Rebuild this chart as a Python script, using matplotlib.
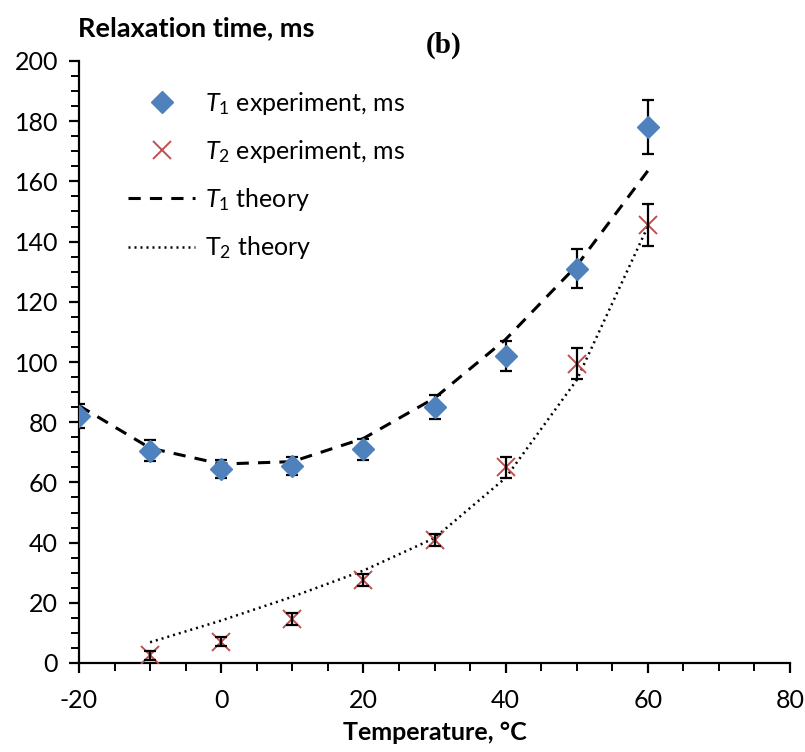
import matplotlib
matplotlib.use("Agg")
import matplotlib.pyplot as plt
from matplotlib.ticker import MultipleLocator

plt.rcParams['font.family'] = ['Lato', 'DejaVu Sans']
plt.rcParams['mathtext.fontset'] = 'custom'
plt.rcParams['mathtext.rm'] = 'Lato'
plt.rcParams['mathtext.it'] = 'Lato:italic'
plt.rcParams['axes.unicode_minus'] = False

# Data
temp_t1 = [-20, -10, 0, 10, 20, 30, 40, 50, 60]
t1_exp = [82, 70.5, 64.5, 65.5, 71, 85, 102, 131, 178]
t1_err = [4, 3.5, 3, 3, 3.5, 4, 5, 6.5, 9]

temp_t2 = [-10, 0, 10, 20, 30, 40, 50, 60]
t2_exp = [2.5, 7, 14.5, 27.5, 41, 65, 99.5, 145.5]
t2_err = [1.5, 1.5, 2, 2, 2, 3.5, 5, 7]

temp_t1_th = [-20, -10, 0, 10, 20, 30, 40, 50, 60]
t1_theory = [85.5, 71.4, 66.1, 66.9, 74.6, 88, 107.5, 132, 163.5]

temp_t2_th = [-10, 0, 10, 20, 30, 40, 50, 60]
t2_theory = [6.9, 14.1, 22, 30.7, 41.5, 61.5, 94, 145]

blue = '#4F81BD'
red = '#C0504D'

fig = plt.figure(figsize=(8.05, 7.52), dpi=100)
ax = fig.add_axes([79/805, 1-663/752, (790-79)/805, (663-61)/752])

# T1 experiment
ax.errorbar(temp_t1, t1_exp, yerr=t1_err, fmt='none', ecolor='black',
            elinewidth=1.6, capsize=4, capthick=1.6, zorder=2)
l1, = ax.plot(temp_t1, t1_exp, linestyle='none', marker='D', ms=11.5,
              color=blue, zorder=3)
# T2 experiment
l2, = ax.plot(temp_t2, t2_exp, linestyle='none', marker='x', ms=13,
              mew=1.4, color=red, zorder=3)
ax.errorbar(temp_t2, t2_exp, yerr=t2_err, fmt='none', ecolor='black',
            elinewidth=1.6, capsize=4, capthick=1.6, zorder=4)
# theory
l3, = ax.plot(temp_t1_th, t1_theory, color='black', lw=2.2,
              linestyle=(0, (4, 3)), zorder=2)
l4, = ax.plot(temp_t2_th, t2_theory, color='black', lw=1.8,
              linestyle=(0, (0.8, 1.6)), zorder=2)

ax.set_xlim(-20, 80)
ax.set_ylim(0, 200)
ax.xaxis.set_major_locator(MultipleLocator(20))
ax.xaxis.set_minor_locator(MultipleLocator(5))
ax.yaxis.set_major_locator(MultipleLocator(20))
ax.yaxis.set_minor_locator(MultipleLocator(5))
for s in ['top', 'right']:
    ax.spines[s].set_visible(False)
for s in ['left', 'bottom']:
    ax.spines[s].set_linewidth(1.6)
ax.tick_params(which='major', length=7, width=1.6, direction='out',
               labelsize=18, pad=8)
ax.tick_params(which='minor', length=6, width=1.4, direction='out')
ax.tick_params(axis='x', pad=12)

ax.set_xlabel('Temperature, °C', fontsize=18, fontweight='bold', labelpad=6)
fig.text(78/805, 1-28/752, 'Relaxation time, ms', fontsize=19.5,
         fontweight='bold', ha='left', va='center')
fig.text(444/805, 1-45/752, '(b)', fontsize=21, fontweight='bold',
         family='Liberation Serif', ha='center', va='center')

leg = ax.legend([l1, l2, l3, l4],
                [r'$\mathit{T_1}$ experiment, ms', r'$\mathit{T_2}$ experiment, ms',
                 r'$\mathit{T_1}$ theory', r'$\mathrm{T_2}$ theory'],
                loc='upper left', bbox_to_anchor=(0.037, 0.99), frameon=False,
                fontsize=18, handlelength=2.7, handletextpad=0.4,
                labelspacing=0.85)

fig.savefig('out.png', dpi=100)
